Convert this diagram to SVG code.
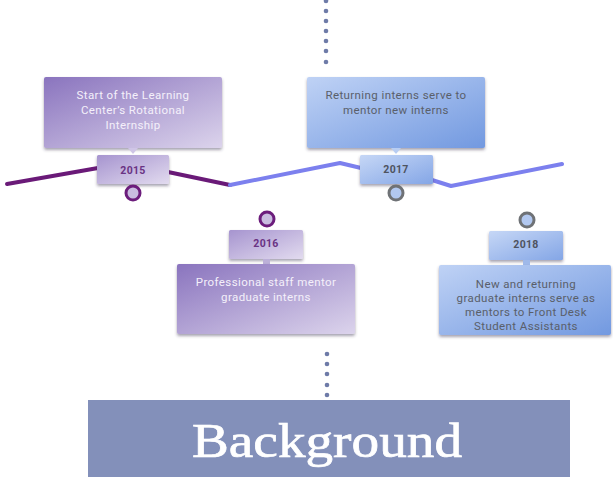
<svg xmlns="http://www.w3.org/2000/svg" width="613" height="477" viewBox="0 0 613 477">
  <style>
    .desc { font-family: Roboto, "Liberation Sans", Arial, sans-serif; font-size: 11.5px; letter-spacing: 0.4px; text-anchor: middle; }
    .desc-light { fill: #f4f0fa; }
    .desc-dark { fill: #5a5f6a; }
    .year { font-family: Roboto, "Liberation Sans", Arial, sans-serif; font-size: 10.5px; font-weight: bold; letter-spacing: 0.3px; text-anchor: middle; }
    .year-purple { fill: #6a3384; }
    .year-blue { fill: #4e5360; }
    .dot { fill: #6e7ba8; }
    .ring-purple { fill: #c9bde0; stroke: #6c1d7c; stroke-width: 3; }
    .ring-blue { fill: #b2c8f0; stroke: #6f7276; stroke-width: 3; }
    .line-purple { fill: none; stroke: #6a1a78; stroke-width: 4; stroke-linecap: round; stroke-linejoin: round; }
    .line-blue { fill: none; stroke: #7c80ee; stroke-width: 4; stroke-linecap: round; stroke-linejoin: round; }
  </style>
  <defs>
    <linearGradient id="gPurple" x1="0" y1="0" x2="1" y2="1">
      <stop offset="0" stop-color="#8a74be"/>
      <stop offset="1" stop-color="#dcd4ec"/>
    </linearGradient>
    <linearGradient id="gPurpleTag" x1="0" y1="0" x2="1" y2="1">
      <stop offset="0" stop-color="#a694cf"/>
      <stop offset="1" stop-color="#e2dbef"/>
    </linearGradient>
    <linearGradient id="gBlue" x1="0" y1="0" x2="1" y2="1">
      <stop offset="0" stop-color="#bfd2f5"/>
      <stop offset="1" stop-color="#7299e0"/>
    </linearGradient>
    <linearGradient id="gBlueTag" x1="0" y1="0" x2="1" y2="1">
      <stop offset="0" stop-color="#c6d7f6"/>
      <stop offset="1" stop-color="#84a6e6"/>
    </linearGradient>
    <filter id="shadow" x="-10%" y="-10%" width="120%" height="130%">
      <feDropShadow dx="0" dy="2" stdDeviation="1.5" flood-color="#3a3550" flood-opacity="0.45"/>
    </filter>
    <clipPath id="clip2018">
      <rect x="439" y="265" width="172" height="70"/>
    </clipPath>
  </defs>

  <!-- dotted lead-in above and below the timeline -->
  <g id="dots">
    <circle class="dot" cx="326" cy="1" r="2.3"/>
    <circle class="dot" cx="326" cy="11" r="2.3"/>
    <circle class="dot" cx="326" cy="21" r="2.3"/>
    <circle class="dot" cx="326" cy="31" r="2.3"/>
    <circle class="dot" cx="326" cy="41" r="2.3"/>
    <circle class="dot" cx="326" cy="51" r="2.3"/>
    <circle class="dot" cx="326" cy="62" r="2.3"/>
    <circle class="dot" cx="327" cy="354" r="2.3"/>
    <circle class="dot" cx="327" cy="364" r="2.3"/>
    <circle class="dot" cx="327" cy="374" r="2.3"/>
    <circle class="dot" cx="327" cy="385" r="2.3"/>
    <circle class="dot" cx="327" cy="395" r="2.3"/>
  </g>

  <!-- timeline connectors -->
  <g id="connectors">
    <polyline class="line-purple" points="7,184 98,168"/>
    <polyline class="line-purple" points="168,172 230,185"/>
    <polyline class="line-blue" points="230,185 340,163 361,168"/>
    <polyline class="line-blue" points="432,180 451,186 562,164"/>
  </g>

  <!-- 2015 -->
  <g id="node-2015">
    <rect x="44" y="77" width="178" height="71" rx="2" fill="url(#gPurple)" filter="url(#shadow)"/>
    <polygon points="128,148 138,148 133,154" fill="#cfc5e6"/>
    <text class="desc desc-light" x="133" y="99">Start of the Learning</text>
    <text class="desc desc-light" x="133" y="114">Center’s Rotational</text>
    <text class="desc desc-light" x="133" y="129">Internship</text>
    <rect x="97" y="155" width="72" height="29" rx="1.5" fill="url(#gPurpleTag)" filter="url(#shadow)"/>
    <text class="year year-purple" x="133" y="174">2015</text>
    <circle class="ring-purple" cx="133" cy="193" r="7"/>
  </g>

  <!-- 2016 -->
  <g id="node-2016">
    <circle class="ring-purple" cx="267" cy="219" r="7"/>
    <rect x="229" y="230" width="74" height="29" rx="1.5" fill="url(#gPurpleTag)" filter="url(#shadow)"/>
    <text class="year year-purple" x="266" y="247">2016</text>
    <rect x="263" y="259" width="7" height="5" fill="#bcb0d8"/>
    <rect x="177" y="264" width="178" height="70" rx="2" fill="url(#gPurple)" filter="url(#shadow)"/>
    <text class="desc desc-light" x="266" y="286">Professional staff mentor</text>
    <text class="desc desc-light" x="266" y="301">graduate interns</text>
  </g>

  <!-- 2017 -->
  <g id="node-2017">
    <rect x="307" y="77" width="178" height="71" rx="2" fill="url(#gBlue)" filter="url(#shadow)"/>
    <polygon points="391,148 401,148 396,154" fill="#b8cdf2"/>
    <text class="desc desc-dark" x="396" y="99">Returning interns serve to</text>
    <text class="desc desc-dark" x="396" y="114">mentor new interns</text>
    <rect x="360" y="155" width="73" height="29" rx="1.5" fill="url(#gBlueTag)" filter="url(#shadow)"/>
    <text class="year year-blue" x="396" y="173">2017</text>
    <circle class="ring-blue" cx="396" cy="193" r="7"/>
  </g>

  <!-- 2018 -->
  <g id="node-2018">
    <circle class="ring-blue" cx="527" cy="220" r="7" fill="#c4d6f3"/>
    <rect x="489" y="231" width="74" height="29" rx="1.5" fill="url(#gBlueTag)" filter="url(#shadow)"/>
    <text class="year year-blue" x="526" y="248">2018</text>
    <rect x="523" y="260" width="7" height="5" fill="#9fb9ea"/>
    <rect x="439" y="265" width="172" height="70" rx="2" fill="url(#gBlue)" filter="url(#shadow)"/>
    <g clip-path="url(#clip2018)">
      <text class="desc desc-dark" x="526" y="288">New and returning</text>
      <text class="desc desc-dark" x="526" y="302">graduate interns serve as</text>
      <text class="desc desc-dark" x="526" y="316">mentors to Front Desk</text>
      <text class="desc desc-dark" x="526" y="330">Student Assistants</text>
    </g>
  </g>

  <!-- title banner -->
  <g id="banner">
    <rect x="88" y="400" width="482" height="77" fill="#8390ba"/>
    <text x="327" y="457" font-family="'Liberation Serif', 'Times New Roman', serif" font-size="48" fill="#ffffff" stroke="#ffffff" stroke-width="0.7" text-anchor="middle" textLength="270" lengthAdjust="spacingAndGlyphs">Background</text>
  </g>
</svg>
